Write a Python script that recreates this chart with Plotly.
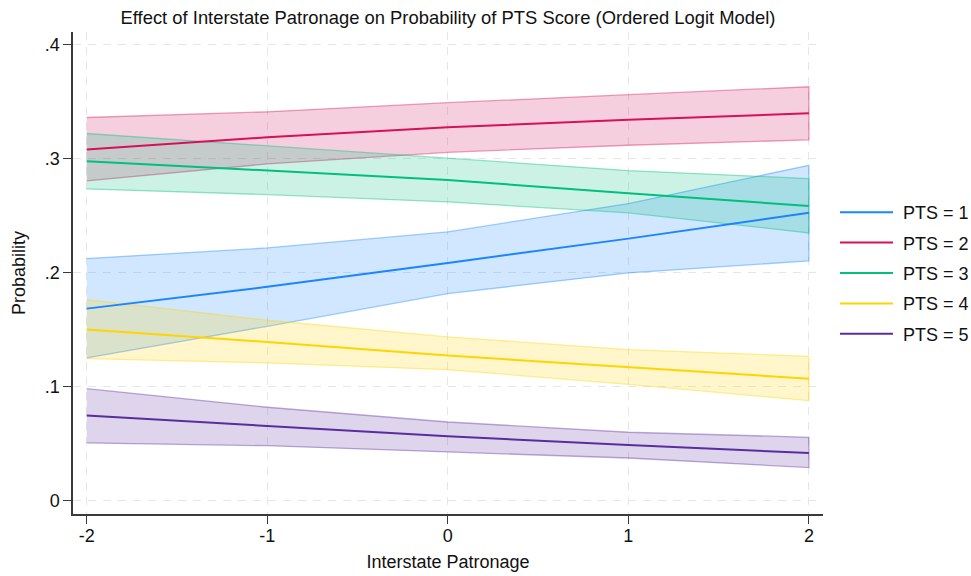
import plotly.graph_objects as go

# Predicted probabilities with 95% confidence bounds at each level of interstate patronage
patronage = [-2, -1, 0, 1, 2]

pts1_mean = [0.1684, 0.1875, 0.2085, 0.2298, 0.2524]
pts1_lo = [0.1252, 0.1529, 0.1816, 0.1997, 0.2103]
pts1_hi = [0.2123, 0.2216, 0.2357, 0.2605, 0.2941]

pts2_mean = [0.3080, 0.3187, 0.3275, 0.3340, 0.3397]
pts2_lo = [0.2804, 0.2953, 0.3055, 0.3117, 0.3164]
pts2_hi = [0.3360, 0.3410, 0.3490, 0.3560, 0.3630]

pts3_mean = [0.2977, 0.2892, 0.2813, 0.2695, 0.2585]
pts3_lo = [0.2734, 0.2684, 0.2620, 0.2524, 0.2348]
pts3_hi = [0.3220, 0.3108, 0.3003, 0.2895, 0.2825]

pts4_mean = [0.1500, 0.1392, 0.1272, 0.1173, 0.1070]
pts4_lo = [0.1246, 0.1208, 0.1149, 0.1020, 0.0877]
pts4_hi = [0.1763, 0.1582, 0.1436, 0.1325, 0.1266]

pts5_mean = [0.0746, 0.0652, 0.0564, 0.0488, 0.0418]
pts5_lo = [0.0506, 0.0482, 0.0427, 0.0374, 0.0290]
pts5_hi = [0.0982, 0.0819, 0.0690, 0.0600, 0.0556]

series_names = ["PTS = 1", "PTS = 2", "PTS = 3", "PTS = 4", "PTS = 5"]
series_rgb = [(26, 133, 255), (212, 17, 89), (0, 191, 127), (255, 212, 0), (88, 46, 158)]

y_tickvals = [0, 0.1, 0.2, 0.3, 0.4]
y_ticktext = ["0", ".1", ".2", ".3", ".4"]
x_tickvals = [-2, -1, 0, 1, 2]

means = [pts1_mean, pts2_mean, pts3_mean, pts4_mean, pts5_mean]
lows = [pts1_lo, pts2_lo, pts3_lo, pts4_lo, pts5_lo]
highs = [pts1_hi, pts2_hi, pts3_hi, pts4_hi, pts5_hi]

FONT = "Liberation Sans, Arial, Helvetica, sans-serif"
TEXT = "#111111"


def rgba(rgb, a):
    return "rgba(%d,%d,%d,%.2f)" % (rgb[0], rgb[1], rgb[2], a)


fig = go.Figure()

# Confidence bands: closed polygon (lower bound out, upper bound back)
for name, rgb, lo, hi in zip(series_names, series_rgb, lows, highs):
    fig.add_trace(go.Scatter(
        x=patronage + patronage[::-1],
        y=lo + hi[::-1],
        mode="lines",
        fill="toself",
        fillcolor=rgba(rgb, 0.2),
        line=dict(color=rgba(rgb, 0.4), width=1.3),
        showlegend=False,
        hoverinfo="skip",
    ))

# Point-estimate lines
for i, (name, rgb, m) in enumerate(zip(series_names, series_rgb, means)):
    fig.add_trace(go.Scatter(
        x=patronage,
        y=m,
        mode="lines",
        name="\u00a0" + name,
        line=dict(color=rgba(rgb, 1), width=2),
        legendgroup="g%d" % i,
    ))

axis_common = dict(
    showline=True,
    linecolor="#3a3a3a",
    linewidth=1.5,
    ticks="outside",
    ticklen=8,
    tickwidth=1.2,
    tickcolor="#3a3a3a",
    showgrid=True,
    gridcolor="#e6e6e6",
    gridwidth=1.2,
    griddash="8px,7px",
    zeroline=False,
    tickfont=dict(family=FONT, size=18, color=TEXT),
    mirror=False,
    automargin=False,
)

fig.update_layout(
    width=971,
    height=576,
    margin=dict(l=73, r=148, t=32, b=62, autoexpand=False),
    paper_bgcolor="white",
    plot_bgcolor="white",
    font=dict(family=FONT, size=18, color=TEXT),
    title=dict(
        text="Effect of Interstate Patronage on Probability of PTS Score (Ordered Logit Model)",
        x=0.5,
        xref="paper",
        xanchor="center",
        y=1 - 18 / 576,
        yref="container",
        yanchor="middle",
        automargin=False,
        font=dict(family=FONT, size=18.4, color=TEXT),
    ),
    xaxis=dict(
        range=[-2.076, 2.078],
        tickvals=x_tickvals,
        ticktext=[str(v) for v in x_tickvals],
        ticklabelstandoff=-3,
        title=dict(text="Interstate Patronage", standoff=10,
                   font=dict(family=FONT, size=18, color=TEXT)),
        **axis_common,
    ),
    yaxis=dict(
        range=[-0.0117, 0.411],
        tickvals=y_tickvals,
        ticktext=y_ticktext,
        title=dict(text="Probability", standoff=14,
                   font=dict(family=FONT, size=18, color=TEXT)),
        **axis_common,
    ),
    legend=dict(
        x=1.0 + 12 / 750,
        xanchor="left",
        y=0.5,
        yanchor="middle",
        itemwidth=53,
        tracegroupgap=4,
        font=dict(family=FONT, size=18, color=TEXT),
        bgcolor="rgba(0,0,0,0)",
    ),
    showlegend=True,
)

fig.write_html("out.html")
